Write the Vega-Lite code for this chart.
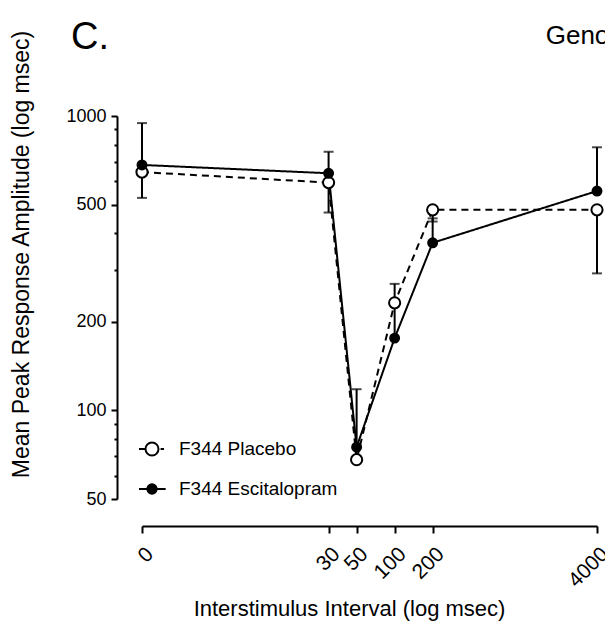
{
  "$schema": "https://vega.github.io/schema/vega-lite/v6.json",
  "width": 455,
  "height": 383,
  "autosize": {"type": "none"},
  "padding": {"left": 142, "top": 116, "right": 8, "bottom": 130},
  "background": "white",
  "config": {
    "view": {"stroke": null},
    "font": "Liberation Sans",
    "axis": {"domainColor": "black", "tickColor": "black", "labelColor": "black", "titleColor": "black", "grid": false, "domainWidth": 2, "tickWidth": 2, "labelFont": "Liberation Sans", "titleFont": "Liberation Sans"}
  },
  "data": {"values": [
    {"isi": 1, "group": "F344 Placebo", "amp": 645, "err": 527},
    {"isi": 30, "group": "F344 Placebo", "amp": 594, "err": 470},
    {"isi": 50, "group": "F344 Placebo", "amp": 68, "err": null},
    {"isi": 100, "group": "F344 Placebo", "amp": 232, "err": null},
    {"isi": 200, "group": "F344 Placebo", "amp": 480, "err": 438},
    {"isi": 4000, "group": "F344 Placebo", "amp": 480, "err": 292},
    {"isi": 1, "group": "F344 Escitalopram", "amp": 682, "err": 946},
    {"isi": 30, "group": "F344 Escitalopram", "amp": 639, "err": 756},
    {"isi": 50, "group": "F344 Escitalopram", "amp": 75, "err": 118},
    {"isi": 100, "group": "F344 Escitalopram", "amp": 176, "err": 269},
    {"isi": 200, "group": "F344 Escitalopram", "amp": 371, "err": 449},
    {"isi": 4000, "group": "F344 Escitalopram", "amp": 556, "err": 783}
  ]},
  "resolve": {"axis": {"y": "independent"}},
  "layer": [
    {
      "mark": {"type": "line", "strokeWidth": 2, "color": "black"},
      "encoding": {
        "x": {"field": "isi", "type": "quantitative", "scale": {"type": "log", "domain": [1, 4000], "nice": false},
          "axis": {"values": [1, 30, 50, 100, 200, 4000], "labelExpr": "datum.value == 1 ? '0' : format(datum.value, 'd')", "offset": 27, "tickSize": 7, "labelAngle": -45, "labelAlign": "right", "labelBaseline": "top", "labelFontSize": 21, "labelPadding": 10, "labelOverlap": false, "labelFlush": false, "title": "Interstimulus Interval (log msec)", "titleFontSize": 22, "titleFontWeight": "normal", "titlePadding": 8, "titleAnchor": "middle", "titleX": 207}},
        "y": {"field": "amp", "type": "quantitative", "scale": {"type": "log", "domain": [50, 1000], "nice": false},
          "axis": {"orient": "left", "values": [50, 100, 200, 500, 1000], "format": "d", "offset": 25, "tickSize": 6, "labelFontSize": 18, "labelPadding": 5, "labelOverlap": false, "labelFlush": false, "title": "Mean Peak Response Amplitude (log msec)", "titleFontSize": 23, "titleFontWeight": "normal", "titlePadding": 32, "titleY": 138}},
        "strokeDash": {"field": "group", "type": "nominal", "scale": {"domain": ["F344 Escitalopram", "F344 Placebo"], "range": [[1, 0], [7, 5]]}, "legend": null}
      }
    },
    {
      "transform": [{"filter": "datum.err != null"}],
      "mark": {"type": "rule", "strokeWidth": 2, "color": "black"},
      "encoding": {
        "x": {"field": "isi", "type": "quantitative"},
        "y": {"field": "amp", "type": "quantitative", "axis": {"orient": "left", "values": [60, 70, 80, 90, 300, 400, 600, 700, 800, 900], "labels": false, "domain": false, "offset": 25, "tickSize": 3, "title": null}},
        "y2": {"field": "err"}
      }
    },
    {
      "transform": [{"filter": "datum.err != null"}],
      "mark": {"type": "tick", "orient": "horizontal", "size": 10, "thickness": 2, "color": "black"},
      "encoding": {
        "x": {"field": "isi", "type": "quantitative"},
        "y": {"field": "err", "type": "quantitative", "axis": null}
      }
    },
    {
      "mark": {"type": "point", "filled": true, "stroke": "black", "strokeWidth": 2, "opacity": 1, "shape": "circle"},
      "encoding": {
        "x": {"field": "isi", "type": "quantitative"},
        "y": {"field": "amp", "type": "quantitative", "axis": null},
        "fill": {"field": "group", "type": "nominal", "scale": {"domain": ["F344 Placebo", "F344 Escitalopram"], "range": ["white", "black"]}},
        "size": {"field": "group", "type": "nominal", "scale": {"domain": ["F344 Escitalopram", "F344 Placebo"], "range": [80, 125]}, "legend": null}
      }
    },
    {
      "transform": [{"filter": "datum.isi < 0"}],
      "mark": {"type": "point", "filled": true, "stroke": "black", "strokeWidth": 2, "opacity": 1},
      "encoding": {
        "x": {"field": "isi", "type": "quantitative"},
        "y": {"field": "amp", "type": "quantitative", "axis": null},
        "fill": {"field": "group", "type": "nominal",
          "legend": {"orient": "none", "legendX": -4, "legendY": 319, "title": null, "labelFontSize": 19, "labelFont": "Liberation Sans", "labelColor": "black", "labelOffset": 13, "rowPadding": 15, "symbolSize": 676, "symbolStrokeColor": "black", "symbolStrokeWidth": 2}},
        "shape": {"field": "group", "type": "nominal",
          "scale": {"domain": ["F344 Placebo", "F344 Escitalopram"], "range": ["M-1,0L-0.56,0M0.66,0L0.92,0M0.5,0A0.5,0.5,0,1,1,-0.5,0A0.5,0.5,0,1,1,0.5,0Z", "M-1,0L1.05,0M0.36,0A0.36,0.36,0,1,1,-0.36,0A0.36,0.36,0,1,1,0.36,0Z"]},
          "legend": {"orient": "none", "legendX": -4, "legendY": 319, "title": null, "labelFontSize": 19, "labelFont": "Liberation Sans", "labelColor": "black", "labelOffset": 13, "rowPadding": 15, "symbolSize": 676, "symbolStrokeColor": "black", "symbolStrokeWidth": 2}}
      }
    },
    {
      "data": {"values": [{"label": "C."}]},
      "mark": {"type": "text", "align": "left", "baseline": "alphabetic", "fontSize": 38, "font": "Liberation Sans", "color": "black"},
      "encoding": {
        "x": {"datum": 0.274, "type": "quantitative"},
        "y": {"datum": 1688, "type": "quantitative", "axis": null},
        "text": {"field": "label"}
      }
    },
    {
      "data": {"values": [{"label": "Genotype"}]},
      "mark": {"type": "text", "align": "left", "baseline": "alphabetic", "fontSize": 26, "font": "Liberation Sans", "color": "black"},
      "encoding": {
        "x": {"datum": 1570, "type": "quantitative"},
        "y": {"datum": 1756, "type": "quantitative", "axis": null},
        "text": {"field": "label"}
      }
    }
  ]
}
